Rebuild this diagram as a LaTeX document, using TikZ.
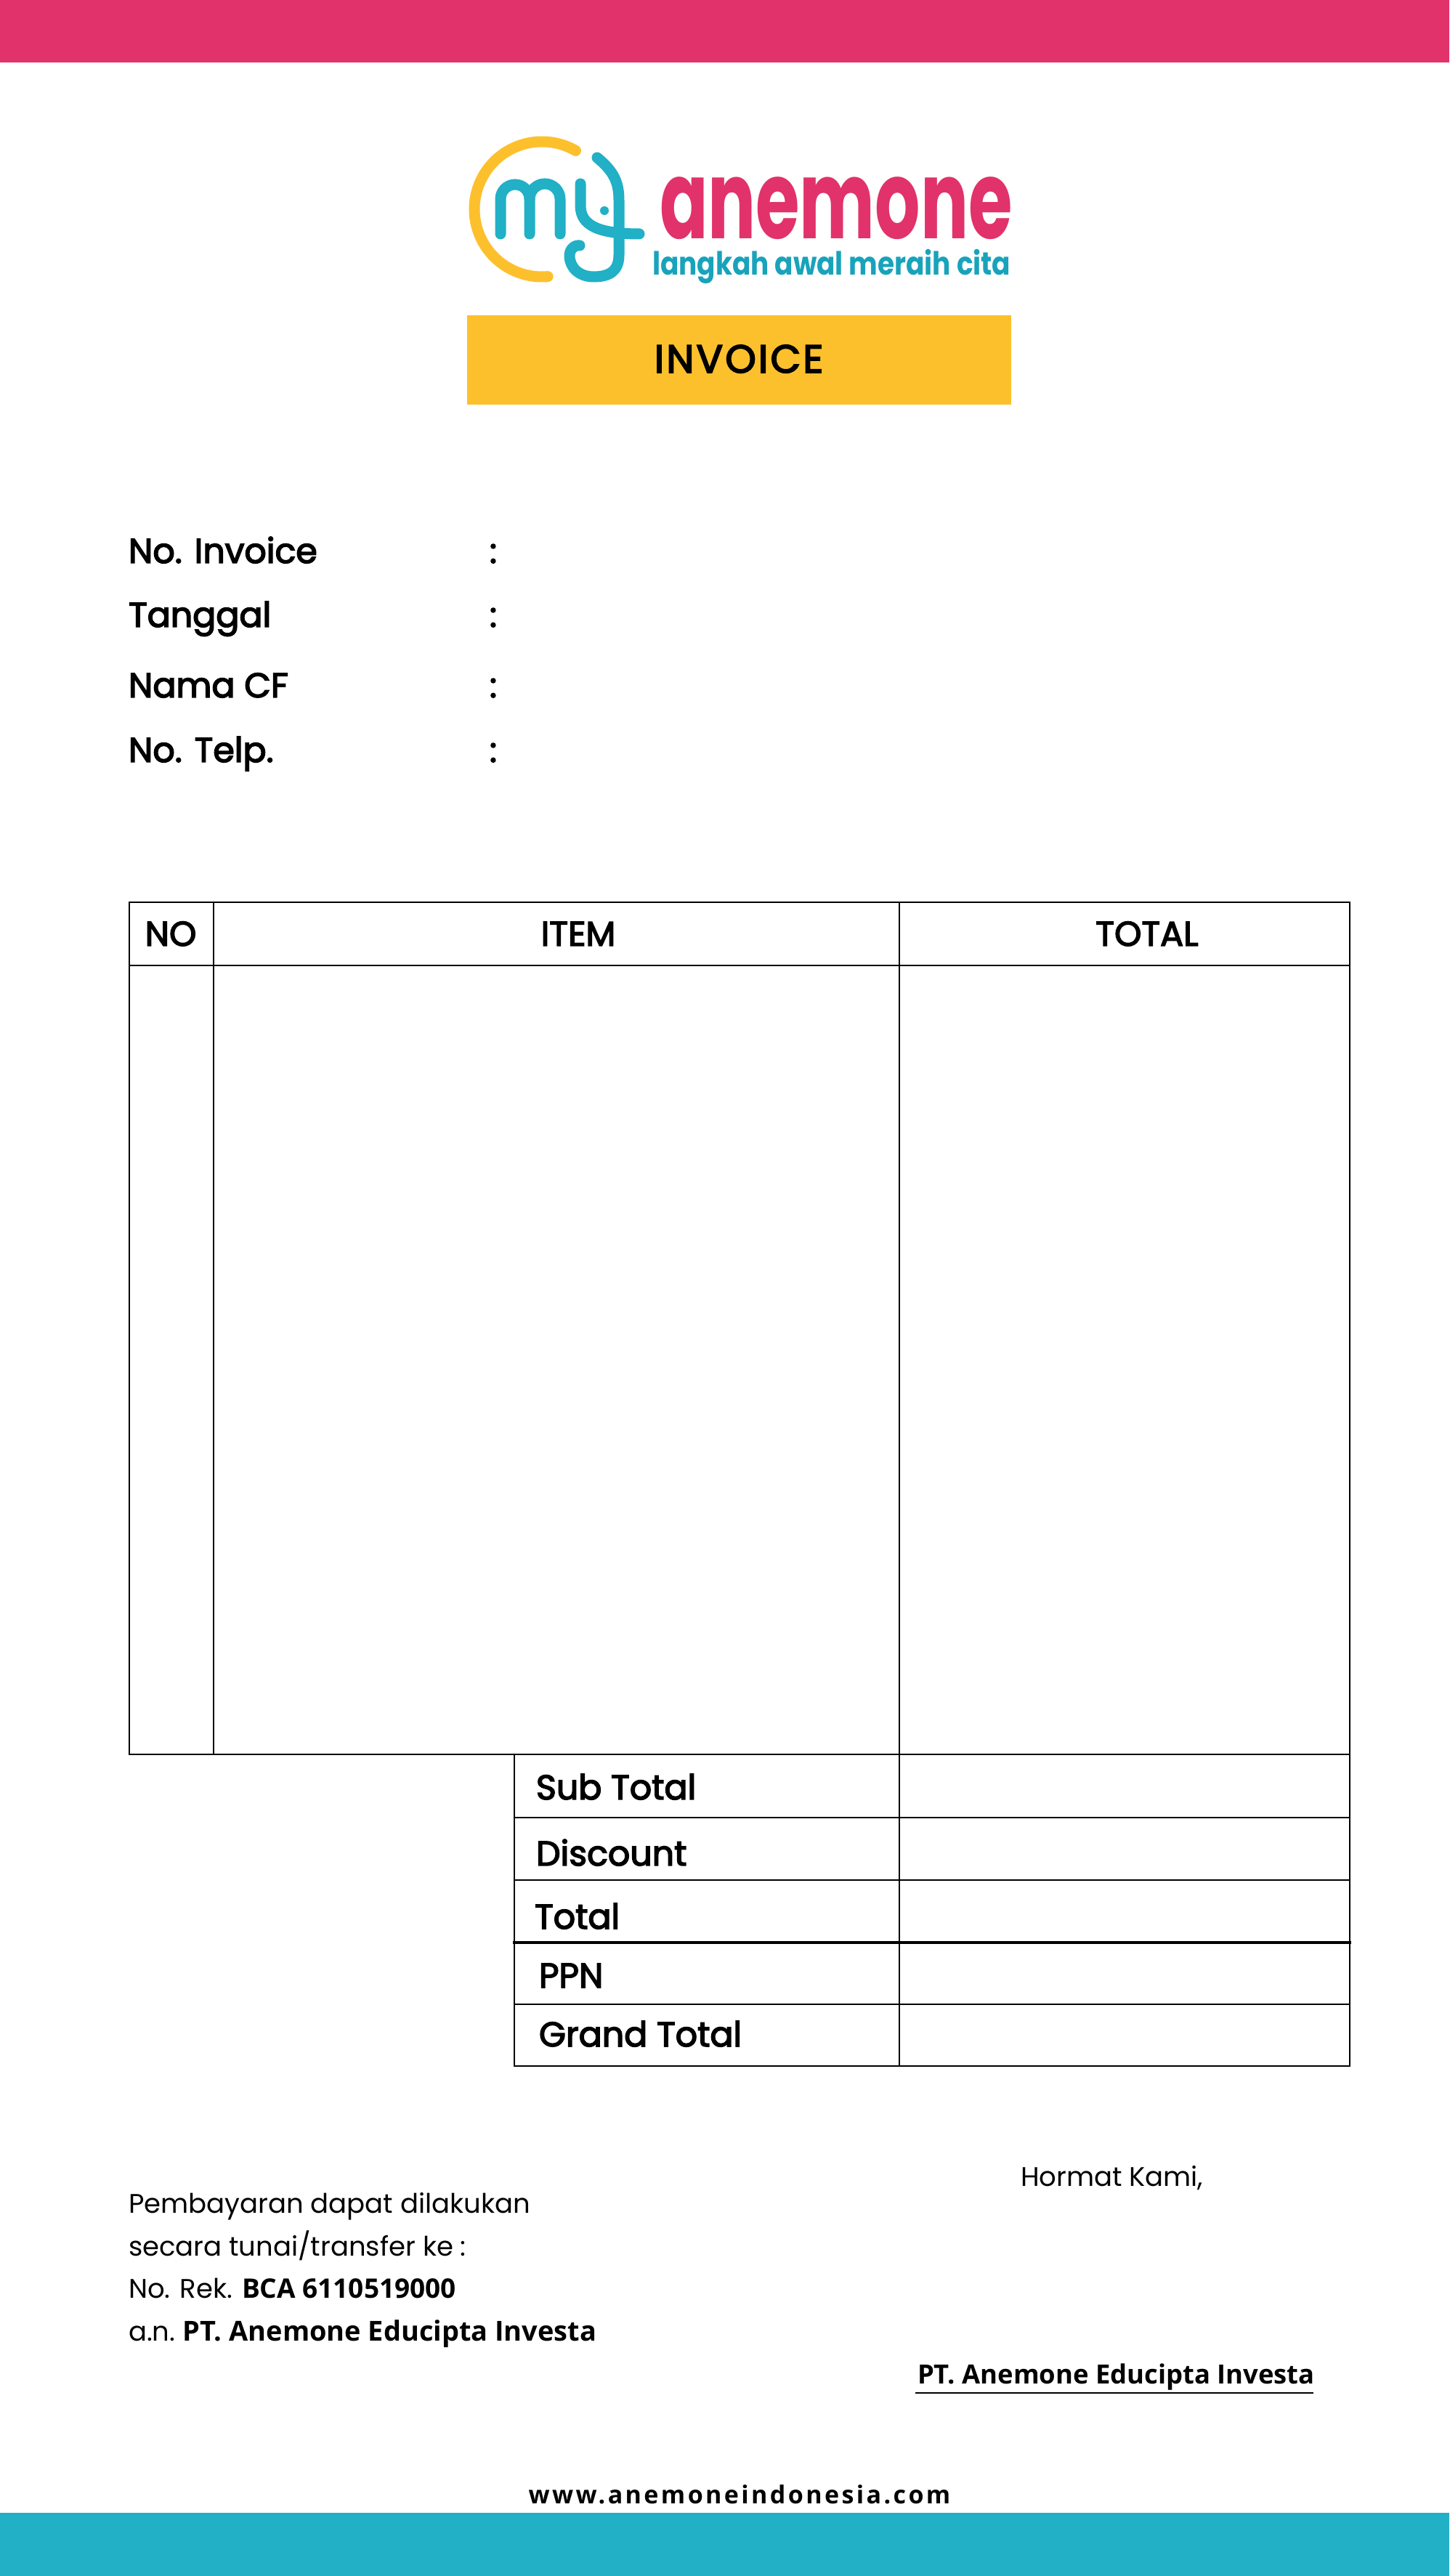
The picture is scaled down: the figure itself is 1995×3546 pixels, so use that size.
\documentclass[tikz,border=0pt]{standalone}
\usepackage{fontspec}
\setmainfont{Poppins}
\newfontfamily\labelfont[FakeBold=3.2]{Poppins}
\newfontfamily\bodyfont{Poppins}
\newfontfamily\titlefont[FakeBold=3.5,LetterSpace=6]{Poppins}
\newfontfamily\openfont{Open Sans}
\newfontfamily\webfont[LetterSpace=10]{Open Sans}
\tikzset{
  txt/.style={text=drawColor,anchor=base west,inner sep=0pt,outer sep=0pt},
  txtmid/.style={text=drawColor,anchor=base,inner sep=0pt,outer sep=0pt},
  rowlabel/.style={txt,font=\labelfont,scale=4.75},
  headlabel/.style={txtmid,font=\labelfont,scale=4.75},
  notelabel/.style={txt,font=\bodyfont,scale=3.7},
  gridline/.style={draw=drawColor,line width=2.8pt,line cap=rect},
  logostroke/.style={line width=15pt,line cap=round,line join=round}
}
\begin{document}
\begin{tikzpicture}[x=1pt,y=1pt]
\definecolor{fillColor}{RGB}{255,255,255}
\definecolor{drawColor}{RGB}{0,0,0}
\definecolor{pinkColor}{RGB}{225,50,107}
\definecolor{tealColor}{RGB}{33,176,198}
\definecolor{deepTeal}{RGB}{24,163,187}
\definecolor{yellowColor}{RGB}{253,192,45}
\path[use as bounding box,fill=fillColor] (0,0) rectangle (1995,3546);

\path[fill=pinkColor] (0,3460) rectangle (1995,3546);
\path[fill=tealColor] (0,0) rectangle (1995,87);
\path[fill=yellowColor] (643,2989) rectangle (1392,3112);

\draw[logostroke,draw=yellowColor] (792.5,3338.5) arc (60:275:93);
\draw[logostroke,draw=tealColor] (689,3224) -- (689,3272) arc (180:0:20) -- (729,3224);
\draw[logostroke,draw=tealColor] (729,3272) arc (180:0:21) -- (771,3224);
\draw[logostroke,draw=tealColor] (799,3293) -- (799,3263) .. controls (799,3235) and (825,3224) .. (880,3224);
\draw[logostroke,draw=tealColor] (822,3329) .. controls (845,3310) and (852,3295) .. (852,3270) --
	(852,3195) .. controls (852,3170) and (835,3165) .. (817,3165) ..
	controls (797,3165) and (784,3178) .. (784,3194) .. controls (784,3202) and (790,3209) .. (798,3208);
\path[fill=tealColor] (832,3256) circle (6);

\node[txt,text=pinkColor,font=\bfseries,xscale=9.8,yscale=15] (anemone) at (908,3217) {anemone};
\node[txt,text=deepTeal,font=\bfseries,xscale=3.74,yscale=4.4] (motto) at (898,3167) {langkah awal meraih cita};
\node[txtmid,font=\titlefont,scale=5.4] (invoice) at (1017,3033) {INVOICE};

\node[rowlabel] (noinvoice) at (177,2771) {No. Invoice};
\node[rowlabel] (tanggal) at (177,2683) {Tanggal};
\node[rowlabel] (namacf) at (177,2586) {Nama CF};
\node[rowlabel] (notelp) at (177,2497) {No. Telp.};
\node[headlabel] (colonA) at (679,2771) {:};
\node[headlabel] (colonB) at (679,2683) {:};
\node[headlabel] (colonC) at (679,2586) {:};
\node[headlabel] (colonD) at (679,2497) {:};

\path[gridline] (178,2304) rectangle (1858,1131);
\path[gridline] (178,2217) -- (1858,2217);
\path[gridline] (294,2304) -- (294,1131);
\path[gridline] (1238,2304) -- (1238,702);
\path[gridline] (708,1131) -- (708,702) -- (1858,702) -- (1858,1131);
\path[gridline] (708,1044) -- (1858,1044);
\path[gridline] (708,958) -- (1858,958);
\path[gridline,line width=3.4pt] (708,872) -- (1858,872);
\path[gridline] (708,787) -- (1858,787);

\node[headlabel] (headno) at (235,2244) {NO};
\node[headlabel] (headitem) at (796,2244) {ITEM};
\node[headlabel] (headtotal) at (1579,2244) {TOTAL};

\node[rowlabel] (subtotal) at (738,1069) {Sub Total};
\node[rowlabel] (discount) at (738,978) {Discount};
\node[rowlabel] (total) at (736,891) {Total};
\node[rowlabel] (ppn) at (742,810) {PPN};
\node[rowlabel] (grandtotal) at (742,729) {Grand Total};

\node[notelabel] (hormat) at (1405,536) {Hormat Kami,};
\node[notelabel] (payA) at (177,499) {Pembayaran dapat dilakukan};
\node[notelabel] (payB) at (177,440) {secara tunai/transfer ke :};
\node[notelabel] (payC) at (177,382) {No. Rek. {\openfont\bfseries BCA 6110519000}};
\node[notelabel] (payD) at (177,323) {a.n.\hspace{-0.8pt} {\openfont\bfseries\fontsize{10.25}{12}\selectfont PT. Anemone Educipta Investa}};
\node[txt,font=\openfont\bfseries,scale=3.64] (company) at (1263,264) {PT. Anemone Educipta Investa};
\coordinate (signL) at (1260,252);
\coordinate (signR) at (1808,252);
\draw[draw=drawColor,line width=2.8pt] (signL) -- (signR);
\node[txtmid,font=\webfont\bfseries,scale=3.4] (website) at (1018,99) {www.anemoneindonesia.com};
\end{tikzpicture}
\end{document}
